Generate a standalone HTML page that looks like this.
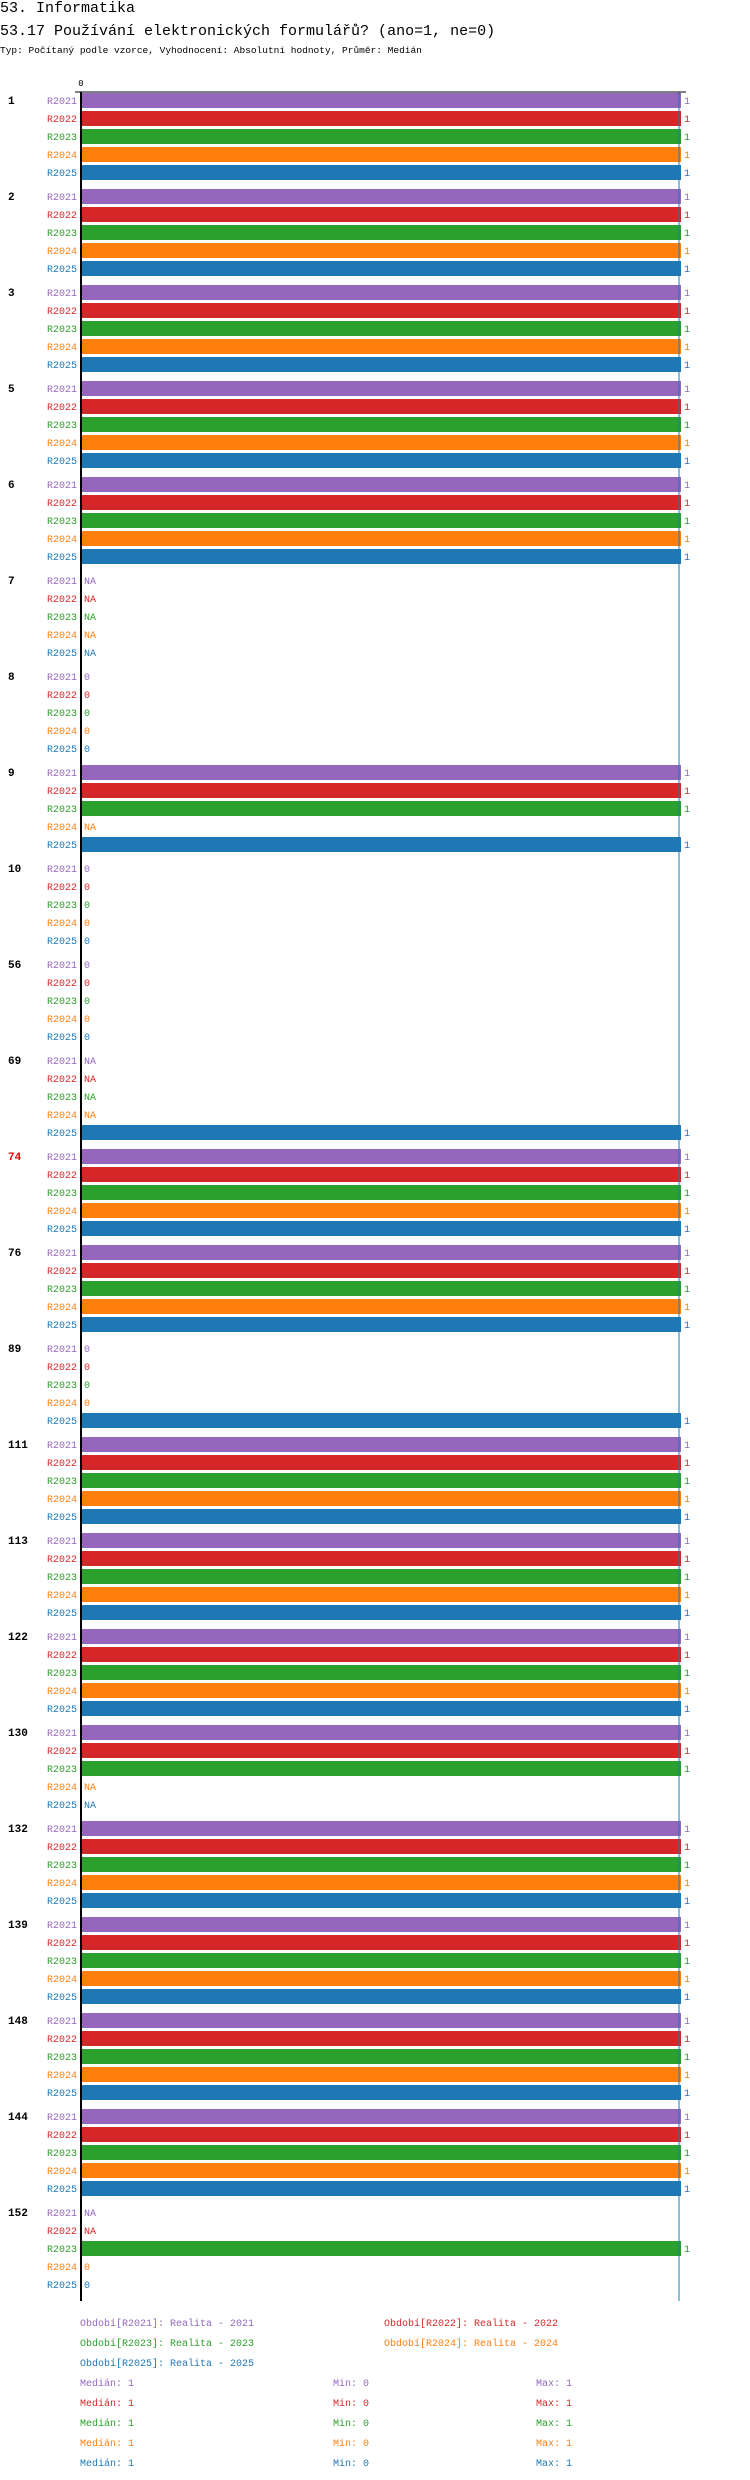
<!DOCTYPE html>
<html><head><meta charset="utf-8"><style>
body{margin:0;background:#fff;width:750px;height:2480px;overflow:hidden;font-family:"Liberation Mono","DejaVu Sans Mono",monospace}
.t1{position:absolute;left:0;top:0;font-size:15px;line-height:17px;white-space:nowrap}
.t2{position:absolute;left:0;top:23px;font-size:15px;line-height:17px;white-space:nowrap}
.t3{position:absolute;left:0;top:45px;font-size:9.5px;line-height:12px;white-space:nowrap}
svg{position:absolute;left:0;top:0}
svg text{font-family:"Liberation Mono","DejaVu Sans Mono",monospace}
</style></head><body>
<div class="t1">53. Informatika</div>
<div class="t2">53.17 Používání elektronických formulářů? (ano=1, ne=0)</div>
<div class="t3">Typ: Počítaný podle vzorce, Vyhodnocení: Absolutní hodnoty, Průměr: Medián</div>
<svg id="chart" width="750" height="2480"></svg>
<script>
const categories=["1","2","3","5","6","7","8","9","10","56","69","74","76","89","111","113","122","130","132","139","148","144","152"];
const seriesNames=["R2021","R2022","R2023","R2024","R2025"];
const seriesColors=["#9467bd","#d62728","#2ca02c","#ff7f0e","#1f77b4"];
const N=null;
const vR2021=[1,1,1,1,1,N,0,1,0,0,N,1,1,0,1,1,1,1,1,1,1,1,N];
const vR2022=[1,1,1,1,1,N,0,1,0,0,N,1,1,0,1,1,1,1,1,1,1,1,N];
const vR2023=[1,1,1,1,1,N,0,1,0,0,N,1,1,0,1,1,1,1,1,1,1,1,1];
const vR2024=[1,1,1,1,1,N,0,N,0,0,N,1,1,0,1,1,1,N,1,1,1,1,0];
const vR2025=[1,1,1,1,1,N,0,1,0,0,1,1,1,1,1,1,1,N,1,1,1,1,0];
const highlighted=["74"];
const medianValue=1;
const xTicks=[0];
const legendStats=[["1","0","1"],["1","0","1"],["1","0","1"],["1","0","1"],["1","0","1"]];
const legendLabels=["Období[R2021]: Realita - 2021","Období[R2022]: Realita - 2022","Období[R2023]: Realita - 2023","Období[R2024]: Realita - 2024","Období[R2025]: Realita - 2025"];

const series=[vR2021,vR2022,vR2023,vR2024,vR2025];
const svg=document.getElementById('chart');
const NS='http://www.w3.org/2000/svg';
const X0=81,X1=681;
const x=v=>X0+(X1-X0)*v;
const groupY=g=>93+96*g;
const rowY=(g,r)=>groupY(g)+18*r;
const top0=92,bottom=2301;
function mk(tag,attrs,txt){const e=document.createElementNS(NS,tag);for(const k in attrs)e.setAttribute(k,attrs[k]);if(txt!==undefined)e.textContent=txt;svg.appendChild(e);return e;}

categories.forEach((c,g)=>{
  const gl=mk('text',{x:8,y:rowY(g,0)+11,'font-size':11,'font-weight':'bold',fill:highlighted.includes(c)?'#e00':'#000'},c);
  
  
  series.forEach((s,r)=>{
    const v=s[g],y=rowY(g,r),col=seriesColors[r];
    const sl=mk('text',{x:77,y:y+11,'font-size':10,'text-anchor':'end',fill:col},seriesNames[r]);
    
    
    if(v!==null&&v>0){
      const b=mk('rect',{x:x(0),y:y,width:x(v)-x(0),height:15,fill:col});
      
      
    }
    const vl=mk('text',{x:(v?x(v):x(0))+3,y:y+11,'font-size':10,fill:col},v===null?'NA':String(v));
    
    
  });
});
const ml=mk('line',{x1:x(medianValue)-2,x2:x(medianValue)-2,y1:top0,y2:bottom,stroke:'#1f77b4','stroke-width':1});


const ay=mk('line',{x1:X0,x2:X0,y1:top0,y2:bottom,stroke:'#000','stroke-width':2});


const ax=mk('line',{x1:75,x2:686,y1:top0,y2:top0,stroke:'#000','stroke-width':1});


xTicks.forEach(t=>{
  const tl=mk('text',{x:x(t),y:86,'font-size':9,'text-anchor':'middle',fill:'#000'},String(t));
  
  
});
const lpos=[[80,2326],[384,2326],[80,2346],[384,2346],[80,2366]];
legendLabels.forEach((l,i)=>{
  const e=mk('text',{x:lpos[i][0],y:lpos[i][1],'font-size':10,fill:seriesColors[i]},l);
  
  
});
legendStats.forEach((s,i)=>{
  const y=2386+20*i,col=seriesColors[i];
  const a=mk('text',{x:80,y:y,'font-size':10,fill:col},'Medián: '+s[0]);
  
  
  const b=mk('text',{x:333,y:y,'font-size':10,fill:col},'Min: '+s[1]);
  
  
  const d=mk('text',{x:536,y:y,'font-size':10,fill:col},'Max: '+s[2]);
  
  
});
</script>
</body></html>
